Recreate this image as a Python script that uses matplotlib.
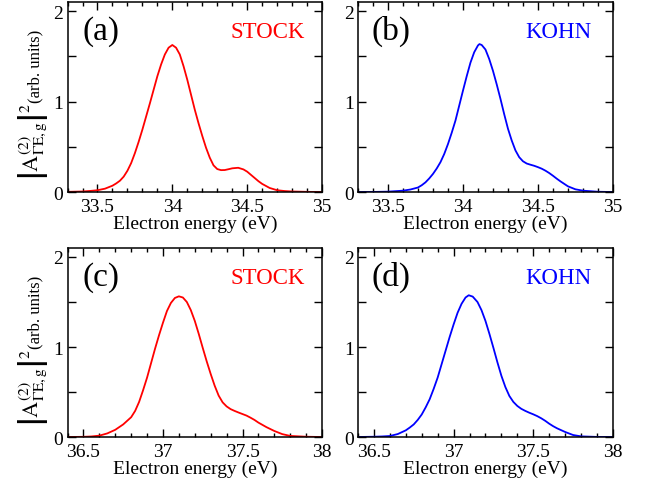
import numpy as np
import matplotlib
matplotlib.use("Agg")
import matplotlib.pyplot as plt
from matplotlib.ticker import MultipleLocator

plt.rcParams['font.family'] = ['Liberation Serif', 'DejaVu Serif']
plt.rcParams['mathtext.fontset'] = 'stix'

# valores
energy_a = [33.30, 33.40, 33.45, 33.50, 33.55, 33.60, 33.625, 33.65, 33.675, 33.70,
            33.725, 33.75, 33.775, 33.80, 33.825, 33.85, 33.875, 33.90, 33.925, 33.95,
            33.975, 34.00, 34.025, 34.05, 34.075, 34.10, 34.125, 34.15, 34.175, 34.20,
            34.225, 34.25, 34.275, 34.30, 34.325, 34.35, 34.375, 34.40, 34.44, 34.475,
            34.50, 34.525, 34.55, 34.575, 34.60, 34.65, 34.70, 34.75, 34.80, 34.90,
            35.00]
amp_a = [0.002, 0.006, 0.012, 0.02, 0.037, 0.07, 0.095, 0.125, 0.17, 0.235,
         0.32, 0.43, 0.555, 0.69, 0.835, 0.98, 1.13, 1.28, 1.41, 1.52,
         1.595, 1.625, 1.595, 1.52, 1.39, 1.24, 1.075, 0.91, 0.76, 0.62,
         0.49, 0.38, 0.295, 0.254, 0.242, 0.243, 0.252, 0.262, 0.268, 0.25,
         0.225, 0.19, 0.155, 0.12, 0.09, 0.045, 0.02, 0.011, 0.006, 0.002,
         0.0]

energy_b = [33.30, 33.40, 33.50, 33.60, 33.65, 33.70, 33.725, 33.75, 33.775, 33.80,
            33.825, 33.85, 33.875, 33.90, 33.925, 33.95, 33.975, 34.00, 34.025, 34.05,
            34.075, 34.10, 34.11, 34.125, 34.15, 34.175, 34.20, 34.225, 34.25, 34.275,
            34.30, 34.325, 34.35, 34.375, 34.40, 34.425, 34.45, 34.475, 34.50, 34.525,
            34.55, 34.575, 34.60, 34.625, 34.65, 34.70, 34.75, 34.80, 34.90, 35.00]
amp_b = [0.0, 0.001, 0.004, 0.015, 0.028, 0.05, 0.075, 0.107, 0.15, 0.20,
         0.26, 0.33, 0.42, 0.53, 0.655, 0.79, 0.955, 1.12, 1.28, 1.43,
         1.545, 1.62, 1.635, 1.625, 1.575, 1.47, 1.34, 1.19, 1.03, 0.86,
         0.70, 0.57, 0.46, 0.385, 0.34, 0.315, 0.302, 0.29, 0.275, 0.258,
         0.236, 0.21, 0.18, 0.148, 0.118, 0.063, 0.03, 0.015, 0.003, 0.0]

energy_c = [36.40, 36.50, 36.55, 36.60, 36.65, 36.70, 36.75, 36.80, 36.825, 36.85,
            36.875, 36.90, 36.925, 36.95, 36.975, 37.00, 37.025, 37.05, 37.075, 37.10,
            37.125, 37.15, 37.175, 37.20, 37.225, 37.25, 37.275, 37.30, 37.325, 37.35,
            37.375, 37.40, 37.425, 37.45, 37.475, 37.50, 37.525, 37.55, 37.575, 37.60,
            37.625, 37.65, 37.70, 37.75, 37.80, 37.90, 38.00]
amp_c = [0.0, 0.002, 0.006, 0.015, 0.04, 0.08, 0.14, 0.22, 0.29, 0.39,
         0.52, 0.66, 0.82, 0.98, 1.13, 1.27, 1.40, 1.49, 1.545, 1.563,
         1.55, 1.50, 1.41, 1.29, 1.145, 0.99, 0.84, 0.70, 0.57, 0.46,
         0.385, 0.34, 0.31, 0.29, 0.272, 0.255, 0.238, 0.215, 0.19, 0.16,
         0.135, 0.11, 0.067, 0.032, 0.012, 0.003, 0.0]

energy_d = [36.40, 36.50, 36.55, 36.60, 36.65, 36.70, 36.725, 36.75, 36.775, 36.80,
            36.825, 36.85, 36.875, 36.90, 36.925, 36.95, 36.975, 37.00, 37.025, 37.05,
            37.075, 37.095, 37.12, 37.15, 37.175, 37.20, 37.225, 37.25, 37.275, 37.30,
            37.325, 37.35, 37.375, 37.40, 37.425, 37.45, 37.475, 37.50, 37.525, 37.55,
            37.575, 37.60, 37.625, 37.65, 37.70, 37.75, 37.80, 37.90, 38.00]
amp_d = [0.0, 0.003, 0.006, 0.011, 0.033, 0.074, 0.105, 0.14, 0.19, 0.25,
         0.33, 0.42, 0.535, 0.66, 0.81, 0.96, 1.11, 1.25, 1.38, 1.48,
         1.55, 1.575, 1.56, 1.50, 1.41, 1.29, 1.145, 0.99, 0.83, 0.68,
         0.555, 0.456, 0.39, 0.345, 0.313, 0.29, 0.27, 0.252, 0.232, 0.208,
         0.18, 0.148, 0.12, 0.096, 0.056, 0.022, 0.007, 0.001, 0.0]

panels = [
    ('(a)', 'STOCK', '#ff0000', energy_a, amp_a, (33.3, 35.0), [0.1047, 0.602, 0.3946, 0.3918]),
    ('(b)', 'KOHN', '#0000ff', energy_b, amp_b, (33.3, 35.0), [0.555, 0.602, 0.3953, 0.3918]),
    ('(c)', 'STOCK', '#ff0000', energy_c, amp_c, (36.4, 38.0), [0.1047, 0.0969, 0.3946, 0.3897]),
    ('(d)', 'KOHN', '#0000ff', energy_d, amp_d, (36.4, 38.0), [0.555, 0.0969, 0.3953, 0.3897]),
]

ylabel_math = r'$\left|\mathrm{A}^{(2)}_{\Gamma\mathrm{E,g}}\right|^{2}$'
ylabel_units = '(arb. units)'

W, H = 645, 485
fig = plt.figure(figsize=(W / 100, H / 100), dpi=100)

for i, (tag, name, color, x, y, xlim, rect) in enumerate(panels):
    ax = fig.add_axes(rect)
    ax.plot(x, y, color=color, lw=1.3)
    ax.set_xlim(*xlim)
    ax.set_ylim(0, 2.1)
    ax.xaxis.set_major_locator(MultipleLocator(0.5))
    ax.xaxis.set_minor_locator(MultipleLocator(0.1))
    ax.yaxis.set_major_locator(MultipleLocator(1))
    ax.yaxis.set_minor_locator(MultipleLocator(0.5))
    ax.xaxis.set_major_formatter(lambda v, p: f'{v:g}')
    ax.tick_params(which='both', direction='in', top=True, right=True,
                   width=1.0, labelsize=14)
    ax.tick_params(axis='x', which='major', length=6, pad=4)
    ax.tick_params(axis='x', which='minor', length=3)
    ax.tick_params(axis='y', which='both', length=6, pad=3)
    for sp in ax.spines.values():
        sp.set_linewidth(1.1)
    ax.set_xlabel('Electron energy (eV)', fontsize=14, labelpad=0)
    ax.text(0.13, 0.85, tag, transform=ax.transAxes, fontsize=24,
            ha='center', va='center')
    ax.text(0.785, 0.845, name, transform=ax.transAxes, fontsize=16.5,
            ha='center', va='center', color=color)

# etiqueta del eje y (dos partes, tamanos distintos)
for dy in (0, 246):
    fig.text(38 / W, 1 - (141 + dy) / H, ylabel_math, fontsize=16, rotation=90,
             ha='center', va='baseline', rotation_mode='anchor')
    fig.text(39 / W, 1 - (66 + dy) / H, ylabel_units, fontsize=12, rotation=90,
             ha='center', va='baseline', rotation_mode='anchor')

fig.savefig('out.png', dpi=100)
